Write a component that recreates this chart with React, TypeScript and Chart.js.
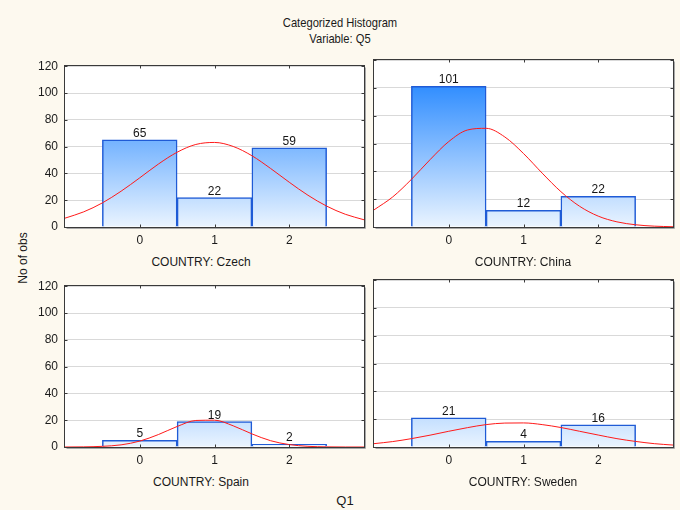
import React, { useEffect, useRef } from "react";
import { Chart, registerables } from "chart.js";

Chart.register(...registerables);

const TITLE = "Categorized Histogram";
const SUBTITLE = "Variable: Q5";
const Y_LABEL = "No of obs";
const X_LABEL = "Q1";
const CATEGORIES = [0, 1, 2];
const Y_TICKS = [0, 20, 40, 60, 80, 100, 120];
const COUNTRIES = ["Czech", "China", "Spain", "Sweden"];

const CZECH = [65, 22, 59];
const CHINA = [101, 12, 22];
const SPAIN = [5, 19, 2];
const SWEDEN = [21, 4, 16];

// Fitted normal curves at these Q1 positions
const CURVE_X = [-1, -0.75, -0.5, -0.25, 0, 0.25, 0.5, 0.75, 1, 1.25, 1.5, 1.75, 2, 2.25, 2.5, 2.75, 3];
const CZECH_CURVE = [6.6, 11.3, 18.0, 26.7, 36.7, 47.0, 55.8, 61.6, 63.1, 60.1, 53.2, 43.7, 33.4, 23.7, 15.6, 9.5, 5.4];
const CHINA_CURVE = [12.3, 21.6, 34.2, 48.4, 61.4, 69.7, 70.9, 64.7, 52.8, 38.7, 25.4, 14.9, 7.8, 3.7, 1.6, 0.6, 0.2];
const SPAIN_CURVE = [0.0, 0.1, 0.5, 1.6, 4.4, 9.3, 15.3, 19.8, 20.0, 15.8, 9.8, 4.7, 1.8, 0.5, 0.1, 0.0, 0.0];
const SWEDEN_CURVE = [2.4, 3.9, 6.0, 8.5, 11.3, 13.9, 16.1, 17.2, 17.3, 16.1, 14.0, 11.3, 8.6, 6.0, 4.0, 2.4, 1.4];

const COUNTS = [CZECH, CHINA, SPAIN, SWEDEN];
const CURVES = [CZECH_CURVE, CHINA_CURVE, SPAIN_CURVE, SWEDEN_CURVE];

const FONT = "'Liberation Sans', Arial, Helvetica, sans-serif";
const BG = "#FDF9EF";

// layout
const PLOT_W = 299;
const PLOT_H = 167;
const PLOT_LEFT = [65, 374];
const PLOT_TOP = [60, 280];
const LABEL_CX = [201, 523];
const LABEL_CY = [262, 482];
const PAD_TOP = 8;
const PAD_RIGHT = 6;
const X_AXIS_H = 25;

Chart.defaults.font.family = FONT;

const plotBackground = {
  id: "plotBackground",
  beforeDraw(chart: any) {
    const ctx = chart.ctx;
    const { left, right, top, bottom } = chart.chartArea;
    ctx.save();
    ctx.fillStyle = "#FFFFFF";
    ctx.fillRect(left, top, right - left, bottom - top);
    ctx.restore();
  },
};

const valueLabels = {
  id: "valueLabels",
  afterDatasetsDraw(chart: any) {
    const ctx = chart.ctx;
    chart.data.datasets.forEach((ds: any, i: number) => {
      if (ds.type !== "bar") return;
      const meta = chart.getDatasetMeta(i);
      meta.data.forEach((el: any, j: number) => {
        const v = ds.data[j].y;
        ctx.save();
        ctx.font = `12px ${FONT}`;
        ctx.fillStyle = "#151515";
        ctx.textAlign = "center";
        ctx.textBaseline = "alphabetic";
        ctx.fillText(String(v), el.x, el.y - 3);
        ctx.restore();
      });
    });
  },
};

const frame = {
  id: "frame",
  afterDraw(chart: any) {
    const ctx = chart.ctx;
    const { left, right, top, bottom } = chart.chartArea;
    const L = Math.round(left) - 0.5;
    const R = Math.round(right) + 0.5;
    const T = Math.round(top) - 0.5;
    const B = Math.round(bottom) + 0.5;
    ctx.save();
    // shadow
    ctx.strokeStyle = "#A8A8A8";
    ctx.lineWidth = 1;
    ctx.beginPath();
    ctx.moveTo(R + 1, T + 2);
    ctx.lineTo(R + 1, B + 1);
    ctx.lineTo(L + 2, B + 1);
    ctx.stroke();
    // frame
    ctx.strokeStyle = "#3A3A3A";
    ctx.strokeRect(L, T, R - L, B - T);
    // inner ticks
    ctx.beginPath();
    const ys = chart.scales.y;
    const xs = chart.scales.x;
    Y_TICKS.forEach((v) => {
      const py = Math.round(ys.getPixelForValue(v)) + 0.5;
      ctx.moveTo(L, py);
      ctx.lineTo(L + 3, py);
      ctx.moveTo(R, py);
      ctx.lineTo(R - 3, py);
    });
    CATEGORIES.forEach((v) => {
      const px = Math.round(xs.getPixelForValue(v)) + 0.5;
      ctx.moveTo(px, B);
      ctx.lineTo(px, B - 3);
      ctx.moveTo(px, T);
      ctx.lineTo(px, T + 3);
    });
    ctx.stroke();
    ctx.restore();
  },
};

function Panel({ index }: { index: number }) {
  const ref = useRef<HTMLCanvasElement | null>(null);
  const col = index % 2;
  const row = Math.floor(index / 2);
  const yW = col === 0 ? 45 : 6;
  const left = PLOT_LEFT[col] - yW;
  const top = PLOT_TOP[row] - PAD_TOP;
  const width = yW + PLOT_W + PAD_RIGHT;
  const height = PAD_TOP + PLOT_H + X_AXIS_H;

  useEffect(() => {
    if (!ref.current) return;
    const counts = COUNTS[index];
    const curve = CURVES[index];
    const chart = new Chart(ref.current, {
      type: "bar",
      data: {
        datasets: [
          {
            type: "line",
            data: CURVE_X.map((x, i) => ({ x, y: curve[i] })),
            borderColor: "#FF1A1A",
            borderWidth: 1,
            pointRadius: 0,
            fill: false,
            cubicInterpolationMode: "monotone",
            order: 0,
          } as any,
          {
            type: "bar",
            data: CATEGORIES.map((c, i) => ({ x: c, y: counts[i] })),
            barPercentage: 1,
            categoryPercentage: 1,
            borderWidth: 1.5,
            borderColor: "#1F5BD6",
            borderSkipped: "start",
            backgroundColor: (ctx: any) => {
              const ca = ctx.chart.chartArea;
              if (!ca) return "#7DB8FF";
              const g = ctx.chart.ctx.createLinearGradient(0, ca.top, 0, ca.bottom);
              g.addColorStop(0, "#0F7BFF");
              g.addColorStop(1, "#EAF4FF");
              return g;
            },
            order: 1,
          } as any,
        ],
      },
      options: {
        responsive: false,
        animation: false,
        events: [],
        layout: { padding: { top: PAD_TOP, right: PAD_RIGHT, left: 0, bottom: 0 } },
        plugins: { legend: { display: false }, tooltip: { enabled: false } },
        scales: {
          x: {
            type: "linear",
            offset: false,
            min: -1,
            max: 3,
            afterBuildTicks: (s: any) => {
              s.ticks = CATEGORIES.map((v) => ({ value: v }));
            },
            afterFit: (s: any) => {
              s.height = X_AXIS_H;
            },
            border: { display: false },
            grid: { display: false, drawTicks: false, tickLength: 0 },
            ticks: { padding: 6, color: "#1a1a1a", font: { size: 12 } },
          },
          y: {
            min: 0,
            max: 120,
            afterBuildTicks: (s: any) => {
              s.ticks = Y_TICKS.map((v) => ({ value: v }));
            },
            afterFit: (s: any) => {
              s.width = yW;
            },
            border: { display: false },
            grid: { color: "#D9D9D9", drawTicks: false },
            ticks: { display: col === 0, padding: 7, color: "#1a1a1a", font: { size: 12 } },
          },
        },
      } as any,
      plugins: [plotBackground, valueLabels, frame],
    });
    return () => chart.destroy();
  }, [index]);

  return (
    <>
      <canvas
        ref={ref}
        width={width}
        height={height}
        style={{ position: "absolute", left, top, width, height }}
      />
      <div
        style={{
          position: "absolute",
          left: LABEL_CX[col] - 100,
          top: LABEL_CY[row] - 7,
          width: 200,
          height: 14,
          lineHeight: "14px",
          textAlign: "center",
          fontSize: 12,
          color: "#1a1a1a",
        }}
      >
        {"COUNTRY: " + COUNTRIES[index]}
      </div>
    </>
  );
}

export default function App() {
  return (
    <div
      style={{
        position: "absolute",
        left: 0,
        top: 0,
        width: 680,
        height: 510,
        background: BG,
        fontFamily: FONT,
        overflow: "hidden",
      }}
    >
      <div
        style={{
          position: "absolute",
          left: 0,
          width: 680,
          top: 15,
          lineHeight: "16px",
          textAlign: "center",
          fontSize: 13,
          color: "#1a1a1a",
          transform: "scaleX(0.86)",
        }}
      >
        <div>{TITLE}</div>
        <div>{SUBTITLE}</div>
      </div>
      <div
        style={{
          position: "absolute",
          left: 23 - 40,
          top: 258 - 7,
          width: 80,
          height: 14,
          lineHeight: "14px",
          textAlign: "center",
          fontSize: 12,
          color: "#1a1a1a",
          transform: "rotate(-90deg)",
        }}
      >
        {Y_LABEL}
      </div>
      <div
        style={{
          position: "absolute",
          left: 345 - 30,
          top: 501 - 8,
          width: 60,
          height: 16,
          lineHeight: "16px",
          textAlign: "center",
          fontSize: 13,
          color: "#1a1a1a",
        }}
      >
        {X_LABEL}
      </div>
      {[0, 1, 2, 3].map((i) => (
        <Panel key={i} index={i} />
      ))}
    </div>
  );
}
